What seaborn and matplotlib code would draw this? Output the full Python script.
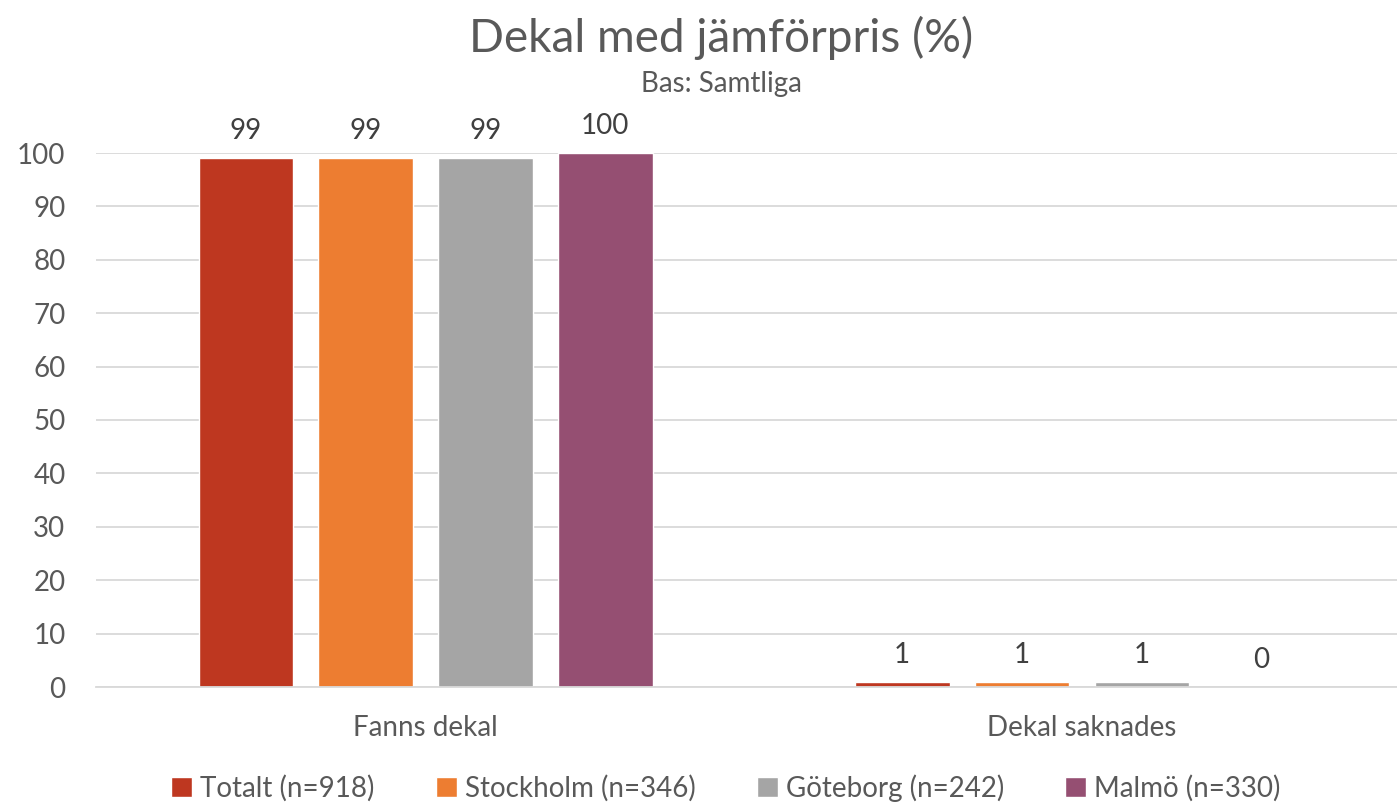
import pandas as pd
import matplotlib.pyplot as plt
import seaborn as sns

categories = ['Fanns dekal', 'Dekal saknades']
groups = ['Totalt (n=918)', 'Stockholm (n=346)', 'Göteborg (n=242)', 'Malmö (n=330)']
values = {
    'Totalt (n=918)': [99, 1],
    'Stockholm (n=346)': [99, 1],
    'Göteborg (n=242)': [99, 1],
    'Malmö (n=330)': [100, 0],
}
colors = ['#BE3720', '#ED7D31', '#A5A5A5', '#954F72']

rows = []
for g in groups:
    for c, v in zip(categories, values[g]):
        rows.append({'kategori': c, 'grupp': g, 'andel': v})
df = pd.DataFrame(rows)

sns.set_style('white')
plt.rcParams['font.family'] = ['Lato', 'DejaVu Sans']
text_col = '#595959'

fig = plt.figure(figsize=(13.97, 8.06), dpi=100)
ax = fig.add_axes([96 / 1397, 1 - 687 / 806, 1 - 96 / 1397, (687 - 153) / 806])

sns.barplot(data=df, x='kategori', y='andel', hue='grupp', hue_order=groups,
            palette=colors, saturation=1, width=0.73, gap=0.21, ax=ax, legend=True)

for cont in ax.containers:
    ax.bar_label(cont, fmt='%d', padding=10, fontsize=20, color='#404040')

ax.set_ylim(0, 100)
ax.set_xlim(-0.502, 1.48)
ax.set_yticks(range(0, 101, 10))
ax.yaxis.grid(True, color='#D9D9D9', linewidth=1.3)
ax.set_axisbelow(True)
for s in ['top', 'right', 'left']:
    ax.spines[s].set_visible(False)
ax.spines['bottom'].set_color('#D9D9D9')
ax.spines['bottom'].set_linewidth(1.3)
ax.tick_params(axis='both', length=0, labelsize=20, colors=text_col)
ax.tick_params(axis='y', pad=22)
ax.tick_params(axis='x', pad=20)
ax.set_xlabel('')
ax.set_ylabel('')

cx = 721 / 1397
fig.text(cx, 1 - 38 / 806, 'Dekal med jämförpris (%)', ha='center', va='center',
         fontsize=33, color=text_col)
fig.text(cx, 1 - 84 / 806, 'Bas: Samtliga', ha='center', va='center',
         fontsize=20, color=text_col)

handles, labels = ax.get_legend_handles_labels()
ax.legend_.remove()
fig.legend(handles, labels, loc='center', bbox_to_anchor=(726 / 1397, 1 - 788 / 806),
           ncol=4, frameon=False, fontsize=20, labelcolor=text_col,
           handlelength=0.75, handleheight=0.75, handletextpad=0.3, columnspacing=2.2)

plt.savefig('out.png', dpi=100)
